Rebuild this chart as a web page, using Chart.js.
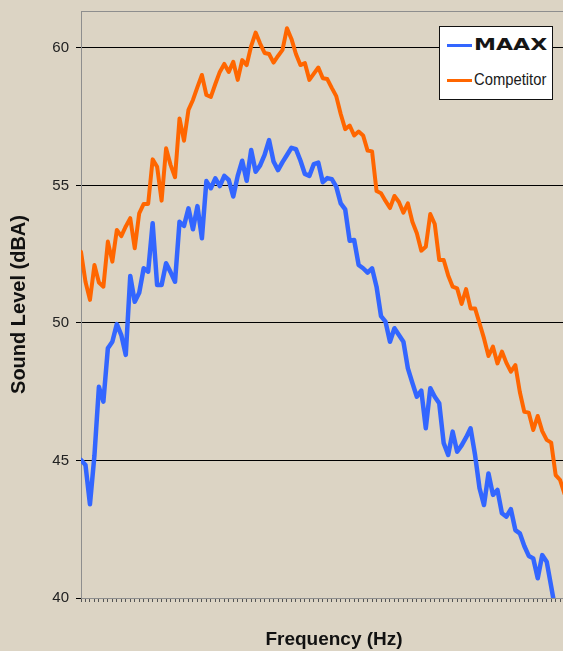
<!DOCTYPE html>
<html>
<head>
<meta charset="utf-8">
<script src="https://cdn.jsdelivr.net/npm/chart.js@4.4.1/dist/chart.umd.min.js"></script>
<style>
  html, body { margin: 0; padding: 0; background: #dcd4c4; overflow: hidden; }
  #wrap { position: relative; width: 563px; height: 651px; overflow: hidden; }
  canvas { display: block; position: absolute; left: 0; top: 0; }
  #legend { position: absolute; left: 439px; top: 26px; width: 112px; height: 72px;
            background: #fff; border: 1px solid #111; }
  .swatch { position: absolute; left: 7px; width: 25px; height: 3px; }
  .lbl { position: absolute; left: 34px; white-space: nowrap; transform-origin: 0 50%; }
</style>
</head>
<body>
<div id="wrap">
  <canvas id="c" width="590" height="651"></canvas>
  <div id="legend">
    <div class="swatch" style="top:17px;background:#3366ff"></div>
    <div class="lbl" style="top:10px;font:bold 16px/16px 'DejaVu Sans',sans-serif;color:#151515;transform:scaleX(1.38)">MAAX</div>
    <div class="swatch" style="top:52px;background:#ff6600"></div>
    <div class="lbl" style="top:44px;font:17px/17px 'Liberation Sans',Arial,sans-serif;color:#1a1a1a;transform:scaleX(0.87)">Competitor</div>
  </div>
</div>
<script>
// frequency bands (category axis, no labels shown)
const freqBand = [1,2,3,4,5,6,7,8,9,10,11,12,13,14,15,16,17,18,19,20,21,22,23,24,25,26,27,28,29,30,
  31,32,33,34,35,36,37,38,39,40,41,42,43,44,45,46,47,48,49,50,51,52,53,54,55,56,57,58,59,60,
  61,62,63,64,65,66,67,68,69,70,71,72,73,74,75,76,77,78,79,80,81,82,83,84,85,86,87,88,89,90,
  91,92,93,94,95,96,97,98,99,100,101,102,103,104,105,106,107,108,109,110,111,112,113,114];

const maaxDb = [45.02,44.84,43.41,45.18,47.68,47.14,49.08,49.32,49.96,49.56,
  48.84,51.71,50.77,51.10,51.99,51.87,53.63,51.38,51.38,52.17,
  51.85,51.50,53.68,53.53,54.17,53.41,54.25,53.08,55.16,54.90,
  55.26,54.98,55.35,55.20,54.60,55.35,55.90,55.17,56.29,55.50,
  55.73,56.11,56.65,55.87,55.56,55.85,56.11,56.37,56.32,55.91,
  55.42,55.35,55.78,55.83,55.12,55.27,55.23,54.96,54.35,54.13,
  52.99,53.02,52.11,51.99,51.83,51.99,51.32,50.25,50.05,49.32,
  49.81,49.56,49.32,48.35,47.82,47.32,47.54,46.17,47.63,47.32,
  47.08,45.63,45.20,46.05,45.32,45.55,45.84,46.17,45.20,43.99,
  43.38,44.53,43.75,43.93,43.08,42.96,43.23,42.47,42.35,41.89,
  41.53,41.44,40.72,41.56,41.32,40.42,39.50];

const competitorDb = [52.59,51.50,50.84,52.11,51.47,51.32,52.96,52.23,53.38,53.16,
  53.51,53.81,52.72,53.99,54.33,54.33,55.95,55.68,54.45,56.35,
  55.75,55.30,57.44,56.63,57.75,58.11,58.58,59.02,58.29,58.22,
  58.69,59.13,59.42,59.13,59.50,58.84,59.56,59.38,60.07,60.56,
  60.16,59.82,59.78,59.47,59.71,59.93,60.72,60.33,59.78,59.38,
  59.45,58.84,59.07,59.29,58.90,58.87,58.55,58.25,57.60,57.05,
  57.18,56.82,56.96,56.82,56.27,56.24,54.80,54.72,54.44,54.18,
  54.62,54.40,54.01,54.35,53.68,53.26,52.63,52.77,53.96,53.60,
  52.29,52.29,51.73,51.32,51.26,50.69,51.23,50.53,50.53,49.99,
  49.44,48.80,49.14,48.53,48.96,48.55,48.23,48.47,47.49,46.77,
  46.74,46.11,46.62,46.07,45.75,45.65,44.47,44.29,43.78];

const yTicks = [40, 45, 50, 55, 60];
const yMin = 40, yMax = 61.345;

const FONT = "'Liberation Sans', Arial, sans-serif";

const topBorder = {
  id: 'topBorder',
  beforeDatasetsDraw(chart) {
    const {ctx, chartArea} = chart;
    ctx.save();
    ctx.strokeStyle = '#8e8e8e';
    ctx.lineWidth = 1;
    ctx.beginPath();
    ctx.moveTo(chartArea.left, chartArea.top + 0.5);
    ctx.lineTo(chartArea.right, chartArea.top + 0.5);
    ctx.stroke();
    ctx.restore();
  }
};

new Chart(document.getElementById('c'), {
  type: 'line',
  data: {
    labels: freqBand,
    datasets: [
      { label: 'MAAX', data: maaxDb, borderColor: '#3366ff', borderWidth: 4.5,
        pointRadius: 0, tension: 0, borderJoinStyle: 'round', borderCapStyle: 'round', clip: 0, order: 1 },
      { label: 'Competitor', data: competitorDb, borderColor: '#ff6600', borderWidth: 4,
        pointRadius: 0, tension: 0, borderJoinStyle: 'round', borderCapStyle: 'round', clip: 0, order: 2 }
    ]
  },
  options: {
    responsive: false,
    animation: false,
    devicePixelRatio: 1,
    layout: { padding: { left: 0, top: 11, right: 3, bottom: 0 } },
    plugins: { legend: { display: false }, tooltip: { enabled: false } },
    scales: {
      x: {
        type: 'category',
        offset: false,
        afterFit: s => { s.height = 53; s.paddingLeft = 0; s.paddingRight = 0; },
        grid: { drawOnChartArea: false, drawTicks: true, tickLength: 4, color: '#555', lineWidth: 1 },
        border: { display: true, color: '#8e8e8e', width: 1 },
        ticks: { display: false, autoSkip: false },
        title: { display: true, text: 'Frequency (Hz)', color: '#111',
                 font: { family: FONT, size: 19, weight: 'bold' }, padding: { top: 0, bottom: 0 } }
      },
      y: {
        min: yMin, max: yMax,
        afterFit: s => { s.width = 81; s.paddingTop = 0; s.paddingBottom = 0; },
        afterBuildTicks: s => { s.ticks = yTicks.map(v => ({ value: v })); },
        grid: { color: '#000', lineWidth: 1, tickLength: 5, drawTicks: true },
        border: { display: true, color: '#8e8e8e', width: 1 },
        ticks: { color: '#222', padding: 7, font: { family: FONT, size: 15 } },
        title: { display: true, text: 'Sound Level (dBA)', color: '#111',
                 font: { family: FONT, size: 20, weight: 'bold' }, padding: { top: 7, bottom: 0 } }
      }
    }
  },
  plugins: [topBorder]
});
</script>
</body>
</html>
